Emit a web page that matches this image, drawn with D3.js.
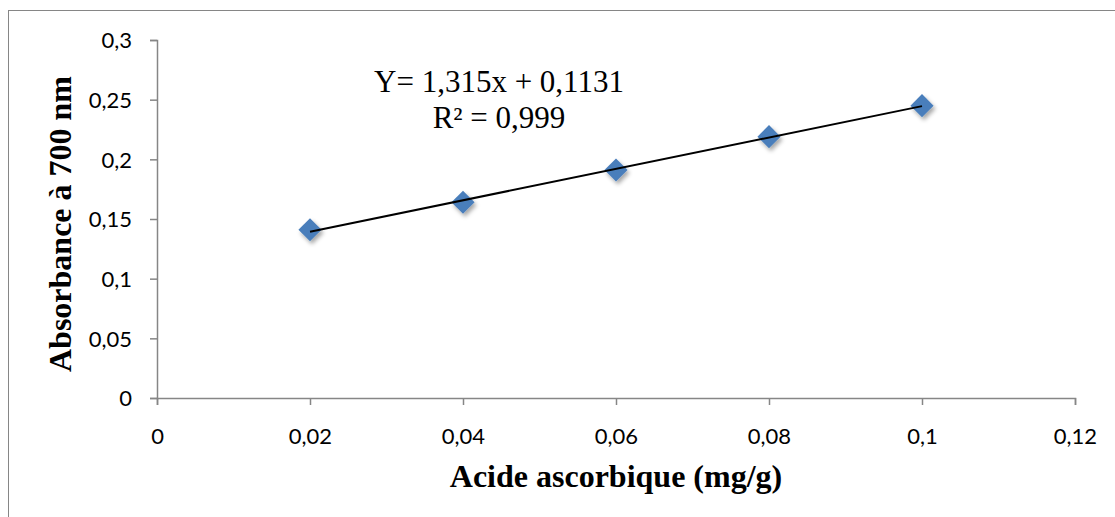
<!DOCTYPE html>
<html>
<head>
<meta charset="utf-8">
<script src="https://cdn.jsdelivr.net/npm/d3@7"></script>
<style>
  body { margin: 0; background: #fff; }
  svg { display: block; }
</style>
</head>
<body>
<div id="chart"></div>
<script>
// values
const concentrations = [0.02, 0.04, 0.06, 0.08, 0.1]
const absorbances = [0.141, 0.164, 0.191, 0.219, 0.245]
const xTicks = [0, 0.02, 0.04, 0.06, 0.08, 0.1, 0.12]
const xTickLabels = ["0", "0,02", "0,04", "0,06", "0,08", "0,1", "0,12"]
const yTicks = [0, 0.05, 0.1, 0.15, 0.2, 0.25, 0.3]
const yTickLabels = ["0", "0,05", "0,1", "0,15", "0,2", "0,25", "0,3"]
const fit = [1.315, 0.1131] // slope, intercept
const equationLines = ["Y= 1,315x + 0,1131", "R\u00b2 = 0,999"]

const W = 1115, H = 517
const svg = d3.select("#chart").append("svg").attr("width", W).attr("height", H)

// chart frame, runs off the right/bottom like the original crop
svg.append("rect")
   .attr("x", 8.5).attr("y", 10.5)
   .attr("width", 1200).attr("height", 600)
   .attr("fill", "none").attr("stroke", "#868686")

const x = d3.scaleLinear().domain([0, 0.12]).range([157, 1075])
const y = d3.scaleLinear().domain([0, 0.3]).range([398, 40])

const xAxis = svg.append("g")
  .attr("transform", `translate(0,${y(0)})`)
  .call(d3.axisBottom(x).tickValues(xTicks).tickSize(7).tickPadding(23)
        .tickFormat((d, i) => xTickLabels[i]))
const yAxis = svg.append("g")
  .attr("transform", `translate(${x(0)},0)`)
  .call(d3.axisLeft(y).tickValues(yTicks).tickSize(7).tickPadding(18)
        .tickFormat((d, i) => yTickLabels[i]))

;[xAxis, yAxis].forEach(g => {
  g.select(".domain").attr("stroke", "#868686").attr("stroke-width", 1.5)
  g.selectAll(".tick line").attr("stroke", "#868686").attr("stroke-width", 1.5)
  g.selectAll(".tick text").attr("fill", "#000")
   .style("font-family", "Lato, 'Open Sans', sans-serif").style("font-size", "22px")
})
yAxis.selectAll(".tick text").attr("dy", "0.35em")

// marker shadow
const defs = svg.append("defs")
const f = defs.append("filter").attr("id", "shadow")
  .attr("x", "-50%").attr("y", "-50%").attr("width", "200%").attr("height", "200%")
f.append("feDropShadow").attr("dx", 2).attr("dy", 3).attr("stdDeviation", 2.2)
  .attr("flood-color", "#000").attr("flood-opacity", 0.35)

const diamond = d3.symbol().type(d3.symbolDiamond2).size(340)
svg.append("g").selectAll("path")
   .data(concentrations)
   .enter()
   .append("path")
   .attr("d", diamond)
   .attr("transform", (d, i) => `translate(${x(d)},${y(absorbances[i])})`)
   .attr("fill", "#4a7ebb")
   .attr("filter", "url(#shadow)")

// linear trendline over the data range
const x0 = d3.min(concentrations), x1 = d3.max(concentrations)
svg.append("line")
   .attr("x1", x(x0)).attr("y1", y(fit[0] * x0 + fit[1]))
   .attr("x2", x(x1)).attr("y2", y(fit[0] * x1 + fit[1]))
   .attr("stroke", "#000").attr("stroke-width", 2)

svg.append("g").selectAll("text")
   .data(equationLines)
   .enter()
   .append("text")
   .attr("x", 499).attr("y", (d, i) => 92 + i * 36)
   .attr("text-anchor", "middle")
   .style("font-family", "'Liberation Serif', serif").style("font-size", "31px")
   .text(d => d)

svg.append("text")
   .attr("x", 616).attr("y", 487)
   .attr("text-anchor", "middle")
   .style("font-family", "'Liberation Serif', serif").style("font-size", "32px").style("font-weight", "bold")
   .text("Acide ascorbique (mg/g)")

svg.append("text")
   .attr("transform", "translate(71,224) rotate(-90)")
   .attr("text-anchor", "middle")
   .style("font-family", "'Liberation Serif', serif").style("font-size", "32px").style("font-weight", "bold")
   .text("Absorbance à 700 nm")
</script>
</body>
</html>
